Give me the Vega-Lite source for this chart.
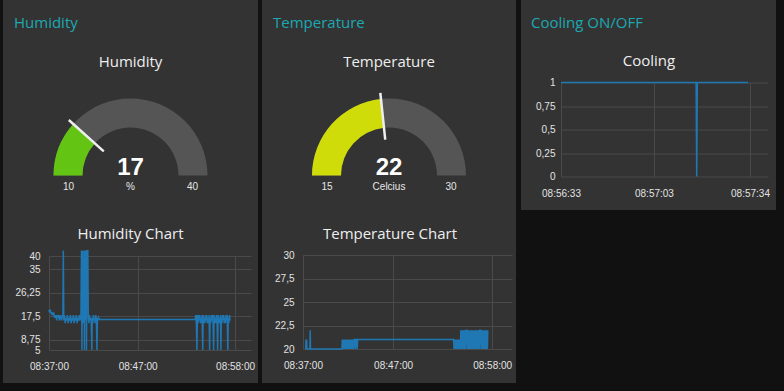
{
  "$schema": "https://vega.github.io/schema/vega-lite/v6.json",
  "background": "#333333",
  "padding": 0,
  "spacing": 0,
  "vconcat": [
    {
      "spacing": 0,
      "hconcat": [
        {"width": 3, "height": 383, "data": {"values": [{}]}, "mark": {"type": "rect", "opacity": 0}, "encoding": {}, "view": {"fill": "#111111", "stroke": null}},
        {
          "spacing": 23.5,
          "vconcat": [
            {"width": 209, "height": 12, "data": {"values": [{}]}, "mark": {"type": "rect", "opacity": 0}, "encoding": {},
             "title": {"text": "Humidity", "orient": "bottom", "anchor": "start", "frame": "group", "color": "#1ca9b2", "offset": 4, "dx": -35}},
            {
              "width": 163,
              "height": 56,
              "title": {"text": "Humidity", "anchor": "middle", "offset": 28.5},
              "data": {"values": [{"min": 10, "max": 40, "value": 17, "unit": "%"}]},
              "layer": [
                {"mark": {"type": "arc", "color": "#555555"}, "encoding": {"theta": {"field": "min", "type": "quantitative", "stack": null, "scale": {"domain": [10, 40], "range": [-1.5707963, 1.5707963]}}, "theta2": {"field": "max"}, "radius": {"value": 77}, "radius2": {"value": 48}}},
                {"mark": {"type": "arc", "color": "#64c414"}, "encoding": {"theta": {"field": "min", "type": "quantitative", "stack": null}, "theta2": {"field": "value"}, "radius": {"value": 77}, "radius2": {"value": 48}}},
                {"mark": {"type": "arc", "color": "#eeeeee", "stroke": "#eeeeee", "strokeWidth": 2.5}, "encoding": {"theta": {"field": "value", "type": "quantitative", "stack": null}, "theta2": {"field": "value"}, "radius": {"value": 83}, "radius2": {"value": 36}}},
                {"mark": {"type": "text", "font": "Liberation Sans", "fontSize": 24, "fontWeight": "bold", "color": "#ffffff", "baseline": "alphabetic", "dy": -1}, "encoding": {"text": {"field": "value", "type": "quantitative"}}},
                {"mark": {"type": "text", "font": "Liberation Sans", "fontSize": 10, "color": "#e6e6e6", "baseline": "middle", "dy": 11}, "encoding": {"text": {"field": "unit", "type": "nominal"}}},
                {"mark": {"type": "text", "font": "Liberation Sans", "fontSize": 10, "color": "#e6e6e6", "baseline": "middle", "dy": 11}, "encoding": {"text": {"field": "min", "type": "quantitative"}, "theta": {"field": "min", "type": "quantitative", "stack": null}, "radius": {"value": 62}}},
                {"mark": {"type": "text", "font": "Liberation Sans", "fontSize": 10, "color": "#e6e6e6", "baseline": "middle", "dy": 11}, "encoding": {"text": {"field": "max", "type": "quantitative"}, "theta": {"field": "max", "type": "quantitative", "stack": null}, "radius": {"value": 62}}}
              ]
            },
            {
              "width": 202,
              "height": 94,
              "title": {"text": "Humidity Chart", "anchor": "middle", "frame": "group", "offset": 5.5, "dx": -19.5},
              "data": {
                "format": {"parse": {"t": "date:'%H:%M:%S'"}},
                "values": [
                  {"t": "08:37:00", "v": 20}, {"t": "08:37:04", "v": 19}, {"t": "08:37:08", "v": 20}, {"t": "08:37:12", "v": 19},
                  {"t": "08:37:16", "v": 19}, {"t": "08:37:20", "v": 18}, {"t": "08:37:24", "v": 19}, {"t": "08:37:28", "v": 18},
                  {"t": "08:37:32", "v": 19}, {"t": "08:37:36", "v": 17}, {"t": "08:37:40", "v": 18}, {"t": "08:37:44", "v": 17},
                  {"t": "08:37:48", "v": 18}, {"t": "08:37:52", "v": 16}, {"t": "08:37:56", "v": 18}, {"t": "08:38:00", "v": 17},
                  {"t": "08:38:05", "v": 18}, {"t": "08:38:10", "v": 16}, {"t": "08:38:15", "v": 18}, {"t": "08:38:20", "v": 17},
                  {"t": "08:38:25", "v": 16}, {"t": "08:38:30", "v": 18}, {"t": "08:38:34", "v": 17}, {"t": "08:38:37", "v": 42},
                  {"t": "08:38:40", "v": 16}, {"t": "08:38:45", "v": 18}, {"t": "08:38:50", "v": 15}, {"t": "08:38:55", "v": 17},
                  {"t": "08:39:00", "v": 16}, {"t": "08:39:05", "v": 18}, {"t": "08:39:10", "v": 15}, {"t": "08:39:15", "v": 17},
                  {"t": "08:39:20", "v": 16}, {"t": "08:39:25", "v": 18}, {"t": "08:39:30", "v": 15}, {"t": "08:39:35", "v": 17},
                  {"t": "08:39:40", "v": 16}, {"t": "08:39:45", "v": 18}, {"t": "08:39:50", "v": 15}, {"t": "08:39:55", "v": 17},
                  {"t": "08:40:00", "v": 16}, {"t": "08:40:05", "v": 18}, {"t": "08:40:10", "v": 15}, {"t": "08:40:15", "v": 17},
                  {"t": "08:40:20", "v": 16}, {"t": "08:40:25", "v": 18}, {"t": "08:40:30", "v": 16}, {"t": "08:40:36", "v": 17},
                  {"t": "08:40:40", "v": 42}, {"t": "08:40:43", "v": 5}, {"t": "08:40:46", "v": 42}, {"t": "08:40:50", "v": 17},
                  {"t": "08:40:54", "v": 15}, {"t": "08:40:57", "v": 42}, {"t": "08:41:00", "v": 5}, {"t": "08:41:03", "v": 42},
                  {"t": "08:41:07", "v": 16}, {"t": "08:41:11", "v": 42}, {"t": "08:41:14", "v": 5}, {"t": "08:41:17", "v": 42},
                  {"t": "08:41:23", "v": 42}, {"t": "08:41:26", "v": 17}, {"t": "08:41:30", "v": 15}, {"t": "08:41:34", "v": 18},
                  {"t": "08:41:38", "v": 16}, {"t": "08:41:42", "v": 17}, {"t": "08:41:46", "v": 15}, {"t": "08:41:50", "v": 5},
                  {"t": "08:41:53", "v": 17}, {"t": "08:41:57", "v": 15}, {"t": "08:42:01", "v": 18}, {"t": "08:42:05", "v": 16},
                  {"t": "08:42:09", "v": 17}, {"t": "08:42:13", "v": 15}, {"t": "08:42:17", "v": 18}, {"t": "08:42:21", "v": 16},
                  {"t": "08:42:25", "v": 5}, {"t": "08:42:28", "v": 17}, {"t": "08:42:32", "v": 16}, {"t": "08:42:36", "v": 17},
                  {"t": "08:42:40", "v": 16.4}, {"t": "08:53:30", "v": 16.4},
                  {"t": "08:53:34", "v": 18}, {"t": "08:53:38", "v": 15}, {"t": "08:53:42", "v": 5}, {"t": "08:53:45", "v": 18},
                  {"t": "08:53:49", "v": 15}, {"t": "08:53:53", "v": 18}, {"t": "08:53:57", "v": 16}, {"t": "08:54:01", "v": 18},
                  {"t": "08:54:05", "v": 15}, {"t": "08:54:09", "v": 17}, {"t": "08:54:13", "v": 15}, {"t": "08:54:17", "v": 18},
                  {"t": "08:54:21", "v": 5}, {"t": "08:54:24", "v": 18}, {"t": "08:54:28", "v": 15}, {"t": "08:54:32", "v": 17},
                  {"t": "08:54:36", "v": 15}, {"t": "08:54:40", "v": 18}, {"t": "08:54:44", "v": 16}, {"t": "08:54:48", "v": 18},
                  {"t": "08:54:52", "v": 15}, {"t": "08:54:56", "v": 17}, {"t": "08:55:00", "v": 15}, {"t": "08:55:04", "v": 18},
                  {"t": "08:55:08", "v": 5}, {"t": "08:55:11", "v": 17}, {"t": "08:55:15", "v": 15}, {"t": "08:55:19", "v": 18},
                  {"t": "08:55:23", "v": 16}, {"t": "08:55:27", "v": 18}, {"t": "08:55:31", "v": 15}, {"t": "08:55:35", "v": 5},
                  {"t": "08:55:38", "v": 18}, {"t": "08:55:42", "v": 15}, {"t": "08:55:46", "v": 17}, {"t": "08:55:50", "v": 15},
                  {"t": "08:55:54", "v": 18}, {"t": "08:55:58", "v": 16}, {"t": "08:56:02", "v": 5}, {"t": "08:56:05", "v": 18},
                  {"t": "08:56:09", "v": 15}, {"t": "08:56:13", "v": 17}, {"t": "08:56:17", "v": 15}, {"t": "08:56:21", "v": 18},
                  {"t": "08:56:24", "v": 5}, {"t": "08:56:27", "v": 17}, {"t": "08:56:31", "v": 15}, {"t": "08:56:35", "v": 18},
                  {"t": "08:56:39", "v": 16}, {"t": "08:56:43", "v": 18}, {"t": "08:56:47", "v": 15}, {"t": "08:56:51", "v": 17},
                  {"t": "08:56:55", "v": 15}, {"t": "08:56:59", "v": 18}, {"t": "08:57:03", "v": 16}, {"t": "08:57:07", "v": 18},
                  {"t": "08:57:11", "v": 5}, {"t": "08:57:14", "v": 17}, {"t": "08:57:18", "v": 15}, {"t": "08:57:22", "v": 18},
                  {"t": "08:57:26", "v": 16}
                ]
              },
              "mark": {"type": "line", "color": "#1f77b4", "strokeWidth": 1.5},
              "encoding": {
                "x": {"field": "t", "type": "temporal",
                  "scale": {"domain": [{"year": 1900, "month": 1, "date": 1, "hours": 8, "minutes": 37, "seconds": 0}, {"year": 1900, "month": 1, "date": 1, "hours": 8, "minutes": 59, "seconds": 48}]},
                  "axis": {"title": null, "format": "%H:%M:%S", "labelPadding": 11, "values": [{"year": 1900, "month": 1, "date": 1, "hours": 8, "minutes": 37, "seconds": 0}, {"year": 1900, "month": 1, "date": 1, "hours": 8, "minutes": 47, "seconds": 0}, {"year": 1900, "month": 1, "date": 1, "hours": 8, "minutes": 58, "seconds": 0}]}},
                "y": {"field": "v", "type": "quantitative",
                  "scale": {"domain": [5, 40], "nice": false, "zero": false},
                  "axis": {"title": null, "values": [5, 8.75, 17.5, 26.25, 35, 40], "labelExpr": "replace(format(datum.value, ''), '.', ',')", "labelPadding": 9, "minExtent": 46, "maxExtent": 46}}
              }
            }
          ]
        },
        {"width": 4, "height": 383, "data": {"values": [{}]}, "mark": {"type": "rect", "opacity": 0}, "encoding": {}, "view": {"fill": "#111111", "stroke": null}},
        {
          "spacing": 23.5,
          "vconcat": [
            {"width": 213, "height": 12, "data": {"values": [{}]}, "mark": {"type": "rect", "opacity": 0}, "encoding": {},
             "title": {"text": "Temperature", "orient": "bottom", "anchor": "start", "frame": "group", "color": "#1ca9b2", "offset": 4, "dx": -30}},
            {
              "width": 172,
              "height": 56,
              "title": {"text": "Temperature", "anchor": "middle", "offset": 18},
              "data": {"values": [{"min": 15, "max": 30, "value": 22, "unit": "Celcius"}]},
              "layer": [
                {"mark": {"type": "arc", "color": "#555555"}, "encoding": {"theta": {"field": "min", "type": "quantitative", "stack": null, "scale": {"domain": [15, 30], "range": [-1.5707963, 1.5707963]}}, "theta2": {"field": "max"}, "radius": {"value": 77}, "radius2": {"value": 48}}},
                {"mark": {"type": "arc", "color": "#d0dc0a"}, "encoding": {"theta": {"field": "min", "type": "quantitative", "stack": null}, "theta2": {"field": "value"}, "radius": {"value": 77}, "radius2": {"value": 48}}},
                {"mark": {"type": "arc", "color": "#eeeeee", "stroke": "#eeeeee", "strokeWidth": 2.5}, "encoding": {"theta": {"field": "value", "type": "quantitative", "stack": null}, "theta2": {"field": "value"}, "radius": {"value": 83}, "radius2": {"value": 36}}},
                {"mark": {"type": "text", "font": "Liberation Sans", "fontSize": 24, "fontWeight": "bold", "color": "#ffffff", "baseline": "alphabetic", "dy": -1}, "encoding": {"text": {"field": "value", "type": "quantitative"}}},
                {"mark": {"type": "text", "font": "Liberation Sans", "fontSize": 10, "color": "#e6e6e6", "baseline": "middle", "dy": 11}, "encoding": {"text": {"field": "unit", "type": "nominal"}}},
                {"mark": {"type": "text", "font": "Liberation Sans", "fontSize": 10, "color": "#e6e6e6", "baseline": "middle", "dy": 11}, "encoding": {"text": {"field": "min", "type": "quantitative"}, "theta": {"field": "min", "type": "quantitative", "stack": null}, "radius": {"value": 62}}},
                {"mark": {"type": "text", "font": "Liberation Sans", "fontSize": 10, "color": "#e6e6e6", "baseline": "middle", "dy": 11}, "encoding": {"text": {"field": "max", "type": "quantitative"}, "theta": {"field": "max", "type": "quantitative", "stack": null}, "radius": {"value": 62}}}
              ]
            },
            {
              "width": 209,
              "height": 94,
              "title": {"text": "Temperature Chart", "anchor": "middle", "frame": "group", "offset": 8, "dx": -17.5},
              "data": {
                "format": {"parse": {"t": "date:'%H:%M:%S'"}},
                "values": [
                  {"t": "08:37:18", "v": 20}, {"t": "08:37:20", "v": 21}, {"t": "08:37:22", "v": 20}, {"t": "08:37:24", "v": 21},
                  {"t": "08:37:26", "v": 20}, {"t": "08:37:46", "v": 20}, {"t": "08:37:48", "v": 22}, {"t": "08:37:50", "v": 20},
                  {"t": "08:41:19", "v": 20}, {"t": "08:41:22", "v": 21}, {"t": "08:41:25", "v": 20}, {"t": "08:41:28", "v": 21},
                  {"t": "08:41:31", "v": 20}, {"t": "08:41:34", "v": 21}, {"t": "08:41:37", "v": 20}, {"t": "08:41:40", "v": 21},
                  {"t": "08:41:43", "v": 20}, {"t": "08:41:46", "v": 21}, {"t": "08:41:49", "v": 20}, {"t": "08:41:52", "v": 21},
                  {"t": "08:41:55", "v": 20}, {"t": "08:41:58", "v": 21}, {"t": "08:42:01", "v": 20}, {"t": "08:42:04", "v": 21},
                  {"t": "08:42:07", "v": 20}, {"t": "08:42:10", "v": 21}, {"t": "08:42:13", "v": 20}, {"t": "08:42:16", "v": 21},
                  {"t": "08:42:19", "v": 20}, {"t": "08:42:22", "v": 21}, {"t": "08:42:25", "v": 20}, {"t": "08:42:28", "v": 21},
                  {"t": "08:42:31", "v": 20}, {"t": "08:42:34", "v": 21}, {"t": "08:42:37", "v": 20}, {"t": "08:42:40", "v": 21},
                  {"t": "08:42:46", "v": 21}, {"t": "08:42:49", "v": 20}, {"t": "08:42:52", "v": 21}, {"t": "08:42:58", "v": 21},
                  {"t": "08:43:01", "v": 20}, {"t": "08:43:04", "v": 21}, {"t": "08:53:43", "v": 21},
                  {"t": "08:53:46", "v": 20}, {"t": "08:53:49", "v": 21}, {"t": "08:53:52", "v": 20}, {"t": "08:53:55", "v": 21},
                  {"t": "08:53:58", "v": 20}, {"t": "08:54:01", "v": 21}, {"t": "08:54:04", "v": 20}, {"t": "08:54:07", "v": 21},
                  {"t": "08:54:10", "v": 20}, {"t": "08:54:13", "v": 21}, {"t": "08:54:16", "v": 20}, {"t": "08:54:19", "v": 21},
                  {"t": "08:54:22", "v": 20}, {"t": "08:54:25", "v": 21}, {"t": "08:54:28", "v": 20},
                  {"t": "08:54:31", "v": 22}, {"t": "08:54:34", "v": 20}, {"t": "08:54:37", "v": 22}, {"t": "08:54:40", "v": 20},
                  {"t": "08:54:43", "v": 22}, {"t": "08:54:46", "v": 20}, {"t": "08:54:49", "v": 22}, {"t": "08:54:52", "v": 20},
                  {"t": "08:54:55", "v": 22}, {"t": "08:54:58", "v": 20}, {"t": "08:55:01", "v": 22}, {"t": "08:55:04", "v": 20},
                  {"t": "08:55:07", "v": 22}, {"t": "08:55:13", "v": 22}, {"t": "08:55:16", "v": 20}, {"t": "08:55:19", "v": 22},
                  {"t": "08:55:22", "v": 20}, {"t": "08:55:25", "v": 22}, {"t": "08:55:28", "v": 20}, {"t": "08:55:31", "v": 22},
                  {"t": "08:55:34", "v": 20}, {"t": "08:55:37", "v": 22}, {"t": "08:55:40", "v": 20}, {"t": "08:55:43", "v": 22},
                  {"t": "08:55:46", "v": 20}, {"t": "08:55:49", "v": 22}, {"t": "08:55:52", "v": 20}, {"t": "08:55:55", "v": 22},
                  {"t": "08:55:58", "v": 20}, {"t": "08:56:01", "v": 22}, {"t": "08:56:04", "v": 20}, {"t": "08:56:07", "v": 22},
                  {"t": "08:56:10", "v": 20}, {"t": "08:56:13", "v": 22}, {"t": "08:56:16", "v": 20}, {"t": "08:56:19", "v": 22},
                  {"t": "08:56:22", "v": 20}, {"t": "08:56:25", "v": 22}, {"t": "08:56:28", "v": 20}, {"t": "08:56:31", "v": 22},
                  {"t": "08:56:34", "v": 20}, {"t": "08:56:37", "v": 22}, {"t": "08:56:43", "v": 22}, {"t": "08:56:46", "v": 20},
                  {"t": "08:56:49", "v": 22}, {"t": "08:56:52", "v": 20}, {"t": "08:56:55", "v": 22}, {"t": "08:56:58", "v": 20},
                  {"t": "08:57:01", "v": 22}, {"t": "08:57:04", "v": 20}, {"t": "08:57:07", "v": 22}, {"t": "08:57:10", "v": 20},
                  {"t": "08:57:13", "v": 22}, {"t": "08:57:16", "v": 20}, {"t": "08:57:19", "v": 22}, {"t": "08:57:22", "v": 20},
                  {"t": "08:57:25", "v": 22}, {"t": "08:57:28", "v": 20}, {"t": "08:57:31", "v": 22}
                ]
              },
              "mark": {"type": "line", "color": "#1f77b4", "strokeWidth": 1.5},
              "encoding": {
                "x": {"field": "t", "type": "temporal",
                  "scale": {"domain": [{"year": 1900, "month": 1, "date": 1, "hours": 8, "minutes": 37, "seconds": 0}, {"year": 1900, "month": 1, "date": 1, "hours": 9, "minutes": 0, "seconds": 12}]},
                  "axis": {"title": null, "format": "%H:%M:%S", "labelPadding": 11, "values": [{"year": 1900, "month": 1, "date": 1, "hours": 8, "minutes": 37, "seconds": 0}, {"year": 1900, "month": 1, "date": 1, "hours": 8, "minutes": 47, "seconds": 0}, {"year": 1900, "month": 1, "date": 1, "hours": 8, "minutes": 58, "seconds": 0}]}},
                "y": {"field": "v", "type": "quantitative",
                  "scale": {"domain": [20, 30], "nice": false, "zero": false},
                  "axis": {"title": null, "values": [20, 22.5, 25, 27.5, 30], "labelExpr": "replace(format(datum.value, ''), '.', ',')", "labelPadding": 9, "minExtent": 41, "maxExtent": 41}}
              }
            }
          ]
        },
        {
          "spacing": 0,
          "vconcat": [
            {
              "spacing": 0,
              "hconcat": [
                {"width": 5, "height": 210, "data": {"values": [{}]}, "mark": {"type": "rect", "opacity": 0}, "encoding": {}, "view": {"fill": "#111111", "stroke": null}},
                {
                  "spacing": 22.5,
                  "vconcat": [
                    {"width": 215, "height": 12, "data": {"values": [{}]}, "mark": {"type": "rect", "opacity": 0}, "encoding": {},
                     "title": {"text": "Cooling ON/OFF", "orient": "bottom", "anchor": "start", "frame": "group", "color": "#1ca9b2", "offset": 4, "dx": -30}},
                    {
                      "width": 207,
                      "height": 94,
                      "title": {"text": "Cooling", "anchor": "middle", "frame": "group", "offset": 9, "dx": -15.5},
                      "data": {
                        "format": {"parse": {"t": "date:'%H:%M:%S.%L'"}},
                        "values": [
                          {"t": "08:56:33.000", "v": 1}, {"t": "08:57:16.600", "v": 1}, {"t": "08:57:16.800", "v": 0},
                          {"t": "08:57:17.000", "v": 1}, {"t": "08:57:33.400", "v": 1}
                        ]
                      },
                      "mark": {"type": "line", "color": "#1f77b4", "strokeWidth": 1.5},
                      "encoding": {
                        "x": {"field": "t", "type": "temporal",
                          "scale": {"domain": [{"year": 1900, "month": 1, "date": 1, "hours": 8, "minutes": 56, "seconds": 33}, {"year": 1900, "month": 1, "date": 1, "hours": 8, "minutes": 57, "seconds": 39, "milliseconds": 800}]},
                          "axis": {"title": null, "format": "%H:%M:%S", "labelPadding": 12, "values": [{"year": 1900, "month": 1, "date": 1, "hours": 8, "minutes": 56, "seconds": 33}, {"year": 1900, "month": 1, "date": 1, "hours": 8, "minutes": 57, "seconds": 3}, {"year": 1900, "month": 1, "date": 1, "hours": 8, "minutes": 57, "seconds": 34}]}},
                        "y": {"field": "v", "type": "quantitative",
                          "scale": {"domain": [0, 1], "nice": false},
                          "axis": {"title": null, "values": [0, 0.25, 0.5, 0.75, 1], "labelExpr": "replace(format(datum.value, ''), '.', ',')", "labelPadding": 6, "minExtent": 40, "maxExtent": 40}}
                      }
                    }
                  ]
                },
                {"width": 8, "height": 210, "data": {"values": [{}]}, "mark": {"type": "rect", "opacity": 0}, "encoding": {}, "view": {"fill": "#111111", "stroke": null}}
              ]
            },
            {"width": 268, "height": 173, "data": {"values": [{}]}, "mark": {"type": "rect", "opacity": 0}, "encoding": {}, "view": {"fill": "#111111", "stroke": null}}
          ]
        }
      ]
    },
    {"width": 784, "height": 8, "data": {"values": [{}]}, "mark": {"type": "rect", "opacity": 0}, "encoding": {}, "view": {"fill": "#111111", "stroke": null}}
  ],
  "config": {
    "view": {"stroke": null},
    "title": {"font": "Open Sans", "fontSize": 15, "fontWeight": "normal", "color": "#eeeeee"},
    "axis": {"labelFont": "Liberation Sans", "labelFontSize": 10, "labelColor": "#e2e2e2", "gridColor": "#4a4a4a", "gridOpacity": 1, "domain": false, "ticks": false, "tickSize": 0, "labelFlush": false, "labelOverlap": false}
  }
}
